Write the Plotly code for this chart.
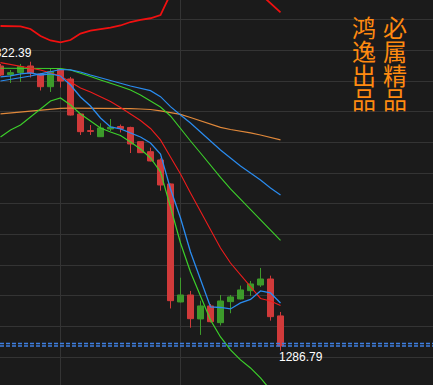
import plotly.graph_objects as go

# ---------------- data ----------------
idx = list(range(29))
opens = [1321.86, 1320.81, 1321.06, 1321.86, 1320.88, 1319.31, 1321.45, 1320.26, 1315.95, 1313.89,
         1313.15, 1314.10, 1314.41, 1314.29, 1312.54, 1311.30, 1310.28, 1307.33, 1292.79, 1293.65,
         1290.70, 1292.30, 1290.24, 1292.83, 1293.16, 1294.18, 1294.88, 1295.62, 1291.07]
highs = [1322.11, 1321.37, 1322.11, 1322.39, 1321.00, 1321.61, 1321.55, 1320.51, 1316.01, 1314.59,
         1314.80, 1315.33, 1314.65, 1314.38, 1312.56, 1311.80, 1310.49, 1307.39, 1295.78, 1294.15,
         1292.95, 1292.54, 1293.65, 1293.65, 1294.80, 1295.38, 1296.98, 1296.03, 1291.56]
lows = [1320.63, 1319.77, 1319.89, 1320.44, 1318.84, 1318.66, 1319.21, 1315.76, 1313.36, 1313.36,
        1313.11, 1313.85, 1313.67, 1311.14, 1311.14, 1310.10, 1306.50, 1291.99, 1292.73, 1289.62,
        1288.73, 1290.27, 1289.90, 1291.40, 1293.10, 1293.53, 1294.64, 1290.49, 1286.79]
closes = [1320.75, 1321.04, 1321.80, 1321.00, 1319.31, 1321.18, 1320.01, 1315.82, 1313.77, 1313.82,
          1314.22, 1314.31, 1314.16, 1312.25, 1311.18, 1310.16, 1307.20, 1292.95, 1293.65, 1290.73,
          1292.30, 1290.36, 1292.91, 1293.41, 1294.27, 1295.01, 1295.62, 1290.98, 1287.37]

boll_upper = [1326.79, 1326.79, 1326.73, 1326.42, 1325.56, 1325.00, 1324.78, 1325.06, 1325.86, 1326.21,
              1326.36, 1326.60, 1326.85, 1327.28, 1327.53, 1327.74, 1328.14, 1330.73, 1332.21, 1333.44,
              1334.06, 1334.30, 1334.06, 1333.44, 1332.70, 1331.84, 1330.73, 1329.61, 1328.47]
boll_mid = [1320.01, 1320.20, 1320.38, 1320.63, 1320.88, 1321.18, 1321.43, 1321.37, 1321.12, 1320.75,
            1320.38, 1320.07, 1319.73, 1319.40, 1319.09, 1318.82, 1318.08, 1316.85, 1315.82, 1314.84,
            1313.73, 1312.62, 1311.51, 1310.53, 1309.54, 1308.68, 1307.82, 1306.83, 1305.97]
boll_lower = [1313.11, 1313.98, 1314.59, 1315.58, 1316.63, 1317.55, 1317.92, 1317.06, 1315.95, 1315.09,
              1314.22, 1313.73, 1313.30, 1312.50, 1311.64, 1310.53, 1308.80, 1304.49, 1300.06, 1296.49,
              1293.41, 1290.57, 1288.48, 1286.88, 1285.65, 1284.66, 1283.43, 1281.95, 1280.47]
ma5 = [1320.51, 1320.63, 1320.88, 1321.00, 1320.75, 1320.88, 1320.63, 1319.52, 1318.04, 1316.93,
       1315.46, 1314.35, 1314.10, 1313.61, 1313.11, 1312.38, 1311.02, 1306.71, 1303.14, 1298.95,
       1295.50, 1292.17, 1292.11, 1291.93, 1292.67, 1293.10, 1294.15, 1293.90, 1292.67]
ma10 = [1322.27, 1322.05, 1321.86, 1321.68, 1321.37, 1321.00, 1320.63, 1319.89, 1319.15, 1318.66,
        1318.10, 1317.49, 1316.75, 1315.95, 1315.15, 1314.16, 1312.75, 1310.65, 1308.56, 1306.22,
        1304.00, 1301.66, 1299.44, 1297.59, 1296.12, 1294.64, 1293.22, 1292.91, 1292.36]
ma20 = [1321.58, 1321.58, 1321.58, 1321.58, 1321.58, 1321.58, 1321.55, 1321.37, 1321.00, 1320.57,
        1320.14, 1319.77, 1319.34, 1318.90, 1318.29, 1317.55, 1316.81, 1315.70, 1314.10, 1312.62,
        1311.14, 1309.60, 1308.13, 1306.71, 1305.42, 1304.12, 1302.89, 1301.66, 1300.37]
ma_long = [1315.95, 1316.07, 1316.16, 1316.32, 1316.44, 1316.56, 1316.65, 1316.66, 1316.66, 1316.66,
           1316.65, 1316.64, 1316.63, 1316.60, 1316.56, 1316.50, 1316.32, 1316.13, 1315.89, 1315.52,
           1315.09, 1314.65, 1314.29, 1314.04, 1313.85, 1313.61, 1313.36, 1313.05, 1312.75]

bid_price = 1287.37
ask_price = 1287.68
high_label = "1322.39"
low_label = "1286.79"
high_index = 3
low_index = 28
watermark_cols = ["鸿逸出品", "必属精品"]

# ---------------- style ----------------
BG = "#1b1b1b"
GRID = "#343434"
UP = "#3d9a2b"
DOWN = "#d13a3a"
W, H = 433, 385

fig = go.Figure()
fig.add_trace(go.Candlestick(
    x=idx, open=opens, high=highs, low=lows, close=closes,
    increasing=dict(line=dict(color=UP, width=1), fillcolor=UP),
    decreasing=dict(line=dict(color=DOWN, width=1), fillcolor=DOWN),
    whiskerwidth=0, hoverinfo="skip", showlegend=False,
))

lines = [
    (ma_long, "#e0883a", 1.2),
    (ma20, "#3ccf2a", 1.1),
    (ma10, "#ee1c1c", 1.1),
    (boll_mid, "#2a8cf0", 1.2),
    (boll_lower, "#3ccf2a", 1.2),
    (boll_upper, "#f01010", 1.8),
    (ma5, "#2a8cf0", 1.3),
]
for ys, col, w in lines:
    fig.add_trace(go.Scatter(x=idx, y=ys, mode="lines", line=dict(color=col, width=w),
                             hoverinfo="skip", showlegend=False))

for p in (ask_price, bid_price):
    fig.add_shape(type="line", xref="paper", x0=0, x1=1, yref="y", y0=p, y1=p,
                  line=dict(color="#3f7fe0", width=1.6, dash="4px,2px"))

annotations = [
    dict(x=high_index, y=highs[high_index], xref="x", yref="y", text=high_label,
         showarrow=False, xanchor="right", yanchor="middle", xshift=3, yshift=9,
         font=dict(family="Liberation Sans, Arial", size=12, color="#ffffff")),
    dict(x=low_index, y=lows[low_index], xref="x", yref="y", text=low_label,
         showarrow=False, xanchor="left", yanchor="middle", xshift=-4, yshift=-6,
         font=dict(family="Liberation Sans, Arial", size=12, color="#ffffff")),
]
col_x = [364, 395]
row_y = [26, 50, 74, 99]
for ci, word in enumerate(watermark_cols):
    for ri, ch in enumerate(word):
        annotations.append(dict(
            x=col_x[ci] / W, y=1 - row_y[ri] / H, xref="paper", yref="paper",
            text=ch, showarrow=False, xanchor="center", yanchor="middle",
            font=dict(family="Noto Sans CJK SC", size=24, color="#ff8a10")))

fig.update_layout(
    width=W, height=H, margin=dict(l=0, r=0, t=0, b=0),
    paper_bgcolor=BG, plot_bgcolor=BG, showlegend=False,
    boxgap=0.4, boxgroupgap=0,
    annotations=annotations,
    xaxis=dict(range=[-0.05, 43.25], rangeslider=dict(visible=False),
               tickmode="array", tickvals=[5.95, 17.95], showticklabels=False,
               showgrid=True, gridcolor=GRID, gridwidth=1, zeroline=False, showline=False),
    yaxis=dict(range=[1282.56, 1329.99], tickmode="linear", tick0=1327.53, dtick=3.777,
               showticklabels=False, showgrid=True, gridcolor=GRID, gridwidth=1,
               zeroline=False, showline=False),
)

fig.write_html("out.html")
